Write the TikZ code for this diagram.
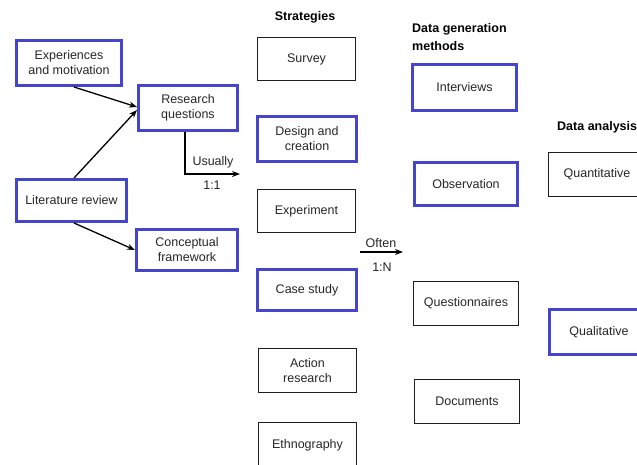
\documentclass[tikz,border=0pt]{standalone}
\usepackage{fontspec}
\setmainfont{Liberation Sans}
\usetikzlibrary{arrows.meta}
\definecolor{boxblue}{RGB}{68,68,204}
\definecolor{boxline}{RGB}{30,30,30}
\begin{document}
\begin{tikzpicture}[x=1pt,y=-1pt,
  font=\fontsize{12.5}{15}\selectfont,
  base/.style={align=center, inner sep=0pt, text=black!85},
  bbox/.style={base, draw=boxline, line width=1.2pt},
  ubox/.style={base, draw=boxblue, line width=3pt},
  arr/.style={line width=1.3pt, -{Stealth[length=8pt,width=6pt]}},
  lbl/.style={inner sep=0pt, text=black!85},
  ttl/.style={inner sep=0pt, font=\fontsize{12.5}{18}\selectfont\bfseries, align=left}]
\useasboundingbox (0,0) rectangle (637,464);
\clip (0,0) rectangle (637,464);
% left column
\node[ubox, minimum width=105pt, minimum height=45pt] (exp) at (69,63) {Experiences\\and motivation};
\node[ubox, minimum width=99pt, minimum height=45pt] (rq) at (188,108) {Research\\questions};
\node[ubox, minimum width=110pt, minimum height=42pt] (lit) at (71.5,200.5) {Literature review};
\node[ubox, minimum width=101pt, minimum height=41pt] (conc) at (187,250) {Conceptual\\framework};
% strategies
\node[ttl] (strat) at (305,17) {Strategies};
\node[bbox, minimum width=97.8pt, minimum height=42.8pt] (survey) at (306.5,59) {Survey};
\node[ubox, minimum width=99pt, minimum height=45pt] (design) at (307,139) {Design and\\creation};
\node[bbox, minimum width=97.8pt, minimum height=42.8pt] (expt) at (306.5,211) {Experiment};
\node[ubox, minimum width=99pt, minimum height=41pt] (case) at (307,290) {Case study};
\node[bbox, minimum width=97.8pt, minimum height=43.8pt] (action) at (307.5,370.5) {Action\\research};
\node[bbox, minimum width=97.8pt, minimum height=44.8pt] (ethno) at (307.5,445) {Ethnography};
% data generation
\node[ttl, anchor=west] (dgm) at (412,37) {Data generation\\methods};
\node[ubox, minimum width=104pt, minimum height=46pt] (interv) at (464.5,87.5) {Interviews};
\node[ubox, minimum width=103pt, minimum height=43pt] (obs) at (466,184) {Observation};
\node[bbox, minimum width=104.8pt, minimum height=43.8pt] (quest) at (466,303.5) {Questionnaires};
\node[bbox, minimum width=104.8pt, minimum height=43.8pt] (docs) at (467,401.5) {Documents};
% data analysis
\node[ttl, anchor=west] (da) at (557,127) {Data analysis};
\node[bbox, minimum width=96.8pt, minimum height=43.8pt] (quant) at (597,174.5) {Quantitative};
\node[ubox, minimum width=99pt, minimum height=45pt] (qual) at (599,332) {Qualitative};
% connectors
\draw[arr] ([xshift=5pt]exp.south) -- ([yshift=1pt]rq.west);
\draw[arr] ([xshift=2.5pt]lit.north) -- ([yshift=-2pt]rq.west);
\draw[arr] ([xshift=2.5pt]lit.south) -- (conc.west);
\coordinate (usu) at (240,174);
\draw[arr] ([xshift=-3pt]rq.south) |- (usu);
\node[lbl] (usul) at (213,162) {Usually};
\node[lbl] (usun) at (212,185) {1:1};
\coordinate (oa) at (360,252);
\coordinate (ob) at (403,252);
\draw[arr] (oa) -- (ob);
\node[lbl] (oftl) at (381,243) {Often};
\node[lbl] (oftn) at (382,267) {1:N};
\end{tikzpicture}
\end{document}
